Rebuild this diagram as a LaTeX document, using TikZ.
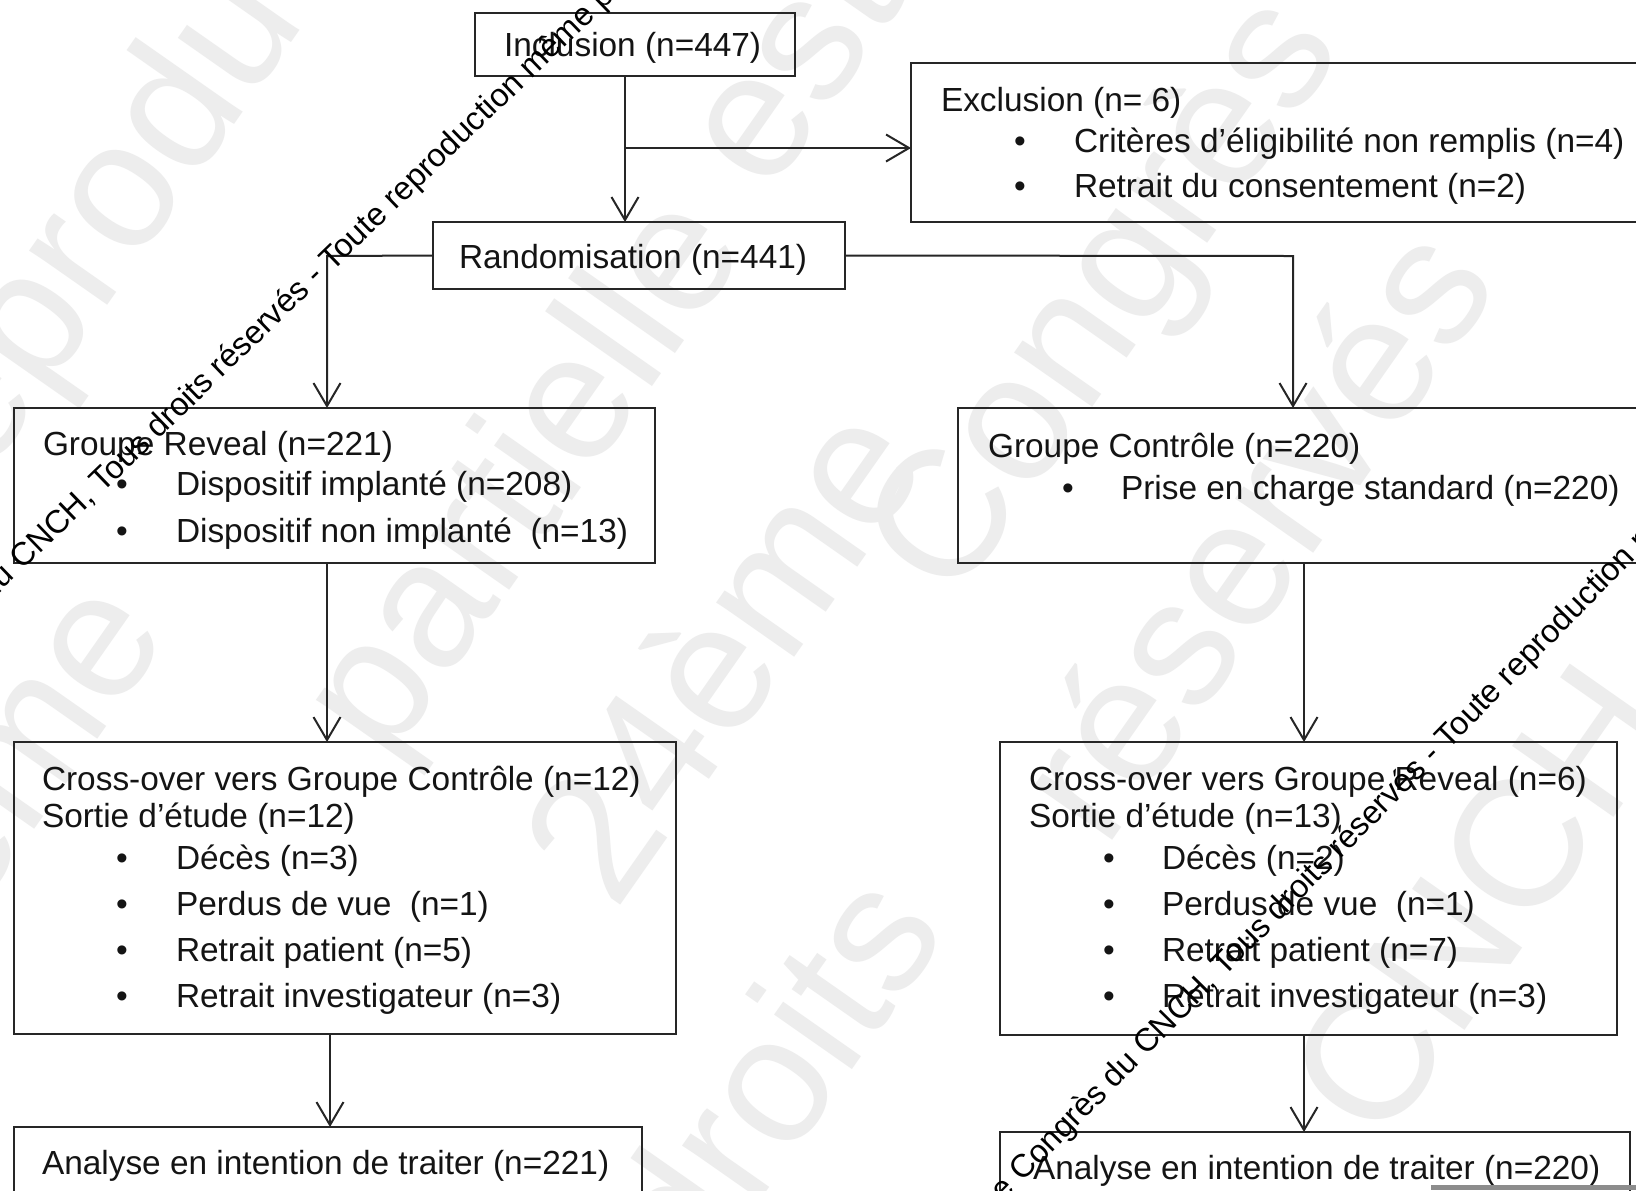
\documentclass[tikz,border=0pt]{standalone}
\usepackage{fontspec}
\setmainfont{Liberation Sans}
\usetikzlibrary{arrows.meta}
\tikzset{
  box/.style={draw=black!85, line width=1pt, inner sep=0pt, outer sep=0pt, anchor=north west},
  lbl/.style={anchor=base west, inner sep=0pt, outer sep=0pt, font=\fontsize{16.7}{20}\selectfont, text=black!92},
  arr/.style={draw=black!85, line width=1pt, -{Straight Barb[length=11.5pt,width=13.5pt]}},
  wmk/.style={inner sep=0pt, outer sep=0pt, font=\fontsize{16.2}{20}\selectfont, text=black},
  pale/.style={inner sep=0pt, outer sep=0pt, rotate=55, font=\fontsize{90}{100}\selectfont, text=black!7}
}
\begin{document}
\begin{tikzpicture}[x=0.5pt,y=-0.5pt]
\useasboundingbox (0,0) rectangle (1636,1190);
\clip (0,0) rectangle (1636,1190);
\fill[white] (0,0) rectangle (1636,1190);

% pale background watermark
\node[pale] (p1) at (200,92) {reproduction};
\node[pale] (p2) at (-25,802) {même};
\node[pale] (p3) at (530,480) {partielle};
\node[pale] (p4) at (790,65) {est};
\node[pale] (p5) at (720,650) {24ème};
\node[pale] (p6) at (1110,300) {Congrès};
\node[pale] (p7) at (770,1075) {droits};
\node[pale] (p8) at (1250,530) {réservés};
\node[pale] (p9) at (1480,900) {CNCH};

% boxes
\node[box, minimum width=160pt, minimum height=31.5pt] (incl) at (475,13) {};
\node[box, minimum width=394.5pt, minimum height=79.5pt] (excl) at (911,63) {};
\node[box, minimum width=206pt, minimum height=33.5pt] (rand) at (433,222) {};
\node[box, minimum width=320.5pt, minimum height=77.5pt] (reveal) at (14,408) {};
\node[box, minimum width=371pt, minimum height=77.5pt] (ctrl) at (958,408) {};
\node[box, minimum width=331pt, minimum height=146pt] (coL) at (14,742) {};
\node[box, minimum width=308.5pt, minimum height=146.5pt] (coR) at (1000,742) {};
\node[box, minimum width=314pt, minimum height=66.5pt] (anL) at (14,1127) {};
\node[box, minimum width=315pt, minimum height=64pt] (anR) at (1000,1132) {};

% texts
\node[lbl] (tincl) at (504,56) {Inclusion (n=447)};
\node[lbl] (tex0) at (941,111) {Exclusion (n= 6)};
\node[lbl] (tex1b) at (1014,152) {•};
\node[lbl] (tex1) at (1074,152) {Critères d’éligibilité non remplis (n=4)};
\node[lbl] (tex2b) at (1014,197) {•};
\node[lbl] (tex2) at (1074,197) {Retrait du consentement (n=2)};
\node[lbl] (trand) at (459,268) {Randomisation (n=441)};

\node[lbl] (trv0) at (43,455) {Groupe Reveal (n=221)};
\node[lbl] (trv1b) at (116,495) {•};
\node[lbl] (trv1) at (176,495) {Dispositif implanté (n=208)};
\node[lbl] (trv2b) at (116,542) {•};
\node[lbl] (trv2) at (176,542) {Dispositif non implanté~ (n=13)};

\node[lbl] (tct0) at (988,457) {Groupe Contrôle (n=220)};
\node[lbl] (tct1b) at (1062,499) {•};
\node[lbl] (tct1) at (1121,499) {Prise en charge standard (n=220)};

\node[lbl] (tl0) at (42,790) {Cross-over vers Groupe Contrôle (n=12)};
\node[lbl] (tl1) at (42,827) {Sortie d’étude (n=12)};
\node[lbl] (tl2b) at (116,869) {•};
\node[lbl] (tl2) at (176,869) {Décès (n=3)};
\node[lbl] (tl3b) at (116,915) {•};
\node[lbl] (tl3) at (176,915) {Perdus de vue~ (n=1)};
\node[lbl] (tl4b) at (116,961) {•};
\node[lbl] (tl4) at (176,961) {Retrait patient (n=5)};
\node[lbl] (tl5b) at (116,1007) {•};
\node[lbl] (tl5) at (176,1007) {Retrait investigateur (n=3)};

\node[lbl] (tr0) at (1029,790) {Cross-over vers Groupe Reveal (n=6)};
\node[lbl] (tr1) at (1029,827) {Sortie d’étude (n=13)};
\node[lbl] (tr2b) at (1103,869) {•};
\node[lbl] (tr2) at (1162,869) {Décès (n=2)};
\node[lbl] (tr3b) at (1103,915) {•};
\node[lbl] (tr3) at (1162,915) {Perdus de vue~ (n=1)};
\node[lbl] (tr4b) at (1103,961) {•};
\node[lbl] (tr4) at (1162,961) {Retrait patient (n=7)};
\node[lbl] (tr5b) at (1103,1007) {•};
\node[lbl] (tr5) at (1162,1007) {Retrait investigateur (n=3)};

\node[lbl] (tanL) at (42,1174) {Analyse en intention de traiter (n=221)};
\node[lbl] (tanR) at (1033,1179) {Analyse en intention de traiter (n=220)};

% connectors
\coordinate (c1) at (625,148);
\coordinate (c2) at (327,256);
\coordinate (c3) at (1293,256);
\coordinate (c4) at (1304,600);
\coordinate (c5) at (330,1080);
\draw[arr] (incl.south -| c1) -- (rand.north -| c1);
\draw[arr] (c1) -- (c1 -| excl.west);
\draw[arr] (rand.west) -- (c2) -- (c2 |- reveal.north);
\draw[arr] (rand.east) -- (c3) -- (c3 |- ctrl.north);
\draw[arr] (reveal.south -| c2) -- (coL.north -| c2);
\draw[arr] (ctrl.south -| c4) -- (coR.north -| c4);
\draw[arr] (coL.south -| c5) -- (anL.north -| c5);
\draw[arr] (coR.south -| c4) -- (anR.north -| c4);

% watermark overlay text
\coordinate (w1) at (332,272);
\node[wmk, rotate=44, anchor=base west] (wa1) at (w1) {Toute reproduction même partielle est interdite};
\node[wmk, rotate=44, anchor=base east] (wa2) at (w1) {© 24ème Congrès du CNCH, Tous droits réservés -\kern0.278em};
\coordinate (w2) at (1448,750);
\node[wmk, rotate=45.5, anchor=base west] (wb1) at (w2) {Toute reproduction même partielle est interdite};
\node[wmk, rotate=45.5, anchor=base east] (wb2) at (w2) {© 24ème Congrès du CNCH, Tous droits réservés -\kern0.278em};

% cut-off picture strip at the bottom right
\fill[black!45] (1431,1185) rectangle (1636,1190);
\end{tikzpicture}
\end{document}
